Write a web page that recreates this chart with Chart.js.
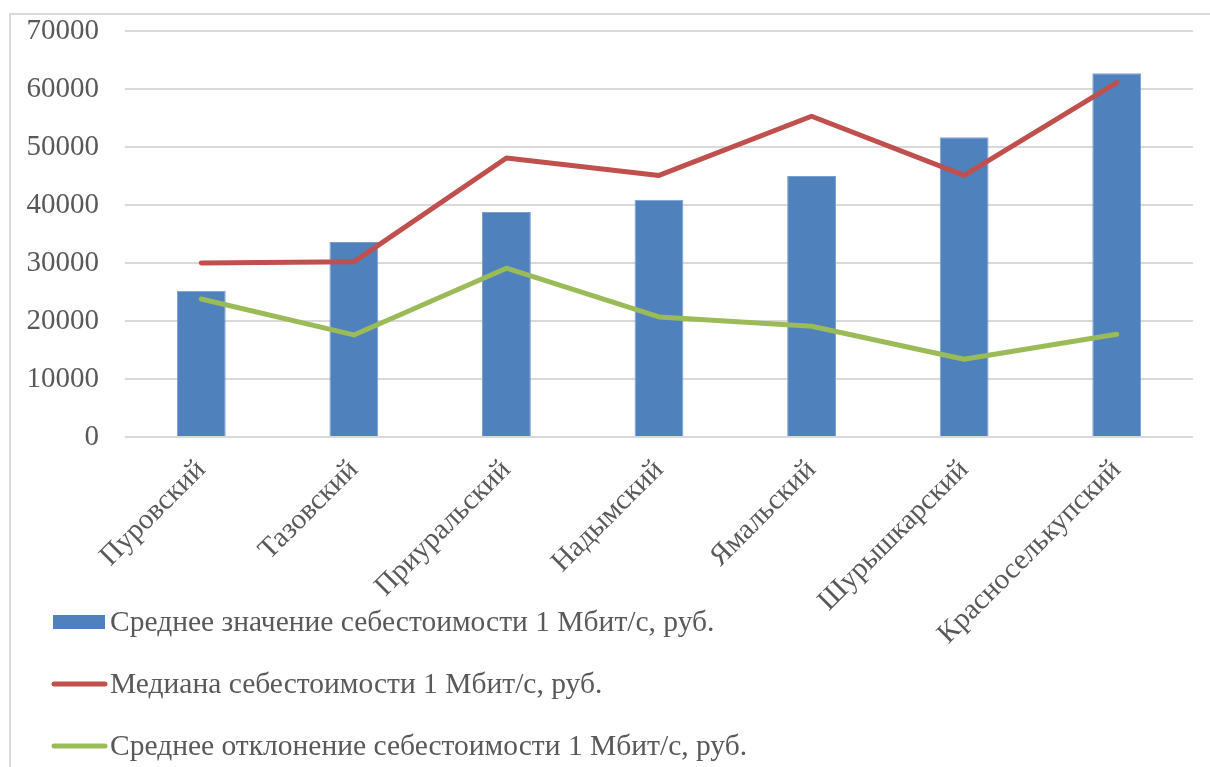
<!DOCTYPE html>
<html>
<head>
<meta charset="utf-8">
<script src="https://cdn.jsdelivr.net/npm/chart.js@4.4.1/dist/chart.umd.min.js"></script>
<style>
  html, body { margin: 0; padding: 0; background: #ffffff; overflow: hidden; }
  #frame {
    position: absolute; left: 9px; top: 13px; width: 1240px; height: 800px;
    border: 2px solid #d9d9d9; box-sizing: border-box;
  }
  #chart { position: absolute; left: 0; top: 0; }
</style>
</head>
<body>
<div id="frame"></div>
<canvas id="chart" width="1210" height="767"></canvas>
<script>
// Districts of the region
const districts = ['Пуровский', 'Тазовский', 'Приуральский', 'Надымский', 'Ямальский', 'Шурышкарский', 'Красноселькупский'];

// Cost of 1 Mbit/s, rubles
const meanCost   = [25200, 33600, 38800, 40900, 45000, 51700, 62700];
const medianCost = [30000, 30200, 48100, 45100, 55300, 45100, 61100];
const deviation  = [23800, 17600, 29100, 20700, 19100, 13400, 17700];

const seriesNames = [
  'Среднее значение себестоимости 1 Мбит/с, руб.',
  'Медиана себестоимости 1 Мбит/с, руб.',
  'Среднее отклонение себестоимости 1 Мбит/с, руб.'
];

const yTicks = [0, 10000, 20000, 30000, 40000, 50000, 60000, 70000];

const FONT = "'Liberation Serif', 'Times New Roman', serif";
const TEXT = '#595959';
const GRID = '#d9d9d9';

// Vertical legend in the lower-left corner
const sideLegend = {
  id: 'sideLegend',
  afterDraw(chart) {
    const ctx = chart.ctx;
    const rows = [622, 684, 746];
    ctx.save();
    ctx.font = '29.5px ' + FONT;
    ctx.textBaseline = 'middle';
    chart.data.datasets.forEach((ds, i) => {
      const y = rows[i];
      if (ds.type === 'bar') {
        ctx.fillStyle = ds.backgroundColor;
        ctx.fillRect(53, y - 7, 52, 14);
      } else {
        ctx.strokeStyle = ds.borderColor;
        ctx.lineWidth = 5;
        ctx.lineCap = 'round';
        ctx.beginPath();
        ctx.moveTo(54, y);
        ctx.lineTo(105, y);
        ctx.stroke();
      }
      ctx.fillStyle = TEXT;
      ctx.fillText(ds.label, 110, y + 1);
    });
    ctx.restore();
  }
};

new Chart(document.getElementById('chart'), {
  data: {
    labels: districts,
    datasets: [
      {
        type: 'bar',
        label: seriesNames[0],
        data: meanCost,
        backgroundColor: '#4f81bd',
        borderColor: '#7a9fcf',
        borderWidth: 1,
        barPercentage: 0.64,
        categoryPercentage: 0.5,
        order: 3
      },
      {
        type: 'line',
        label: seriesNames[1],
        data: medianCost,
        borderColor: '#c0504d',
        borderWidth: 5,
        pointRadius: 0,
        borderCapStyle: 'round',
        borderJoinStyle: 'round',
        tension: 0,
        order: 1
      },
      {
        type: 'line',
        label: seriesNames[2],
        data: deviation,
        borderColor: '#9bbb59',
        borderWidth: 5,
        pointRadius: 0,
        borderCapStyle: 'round',
        borderJoinStyle: 'round',
        tension: 0,
        order: 2
      }
    ]
  },
  options: {
    responsive: false,
    animation: false,
    devicePixelRatio: 1,
    layout: { padding: { left: 26, top: 31, right: 17, bottom: 0 } },
    plugins: {
      legend: { display: false },
      tooltip: { enabled: false }
    },
    scales: {
      x: {
        grid: { display: false, drawTicks: false },
        border: { display: false },
        ticks: {
          color: TEXT,
          font: { family: FONT, size: 29 },
          minRotation: 45,
          maxRotation: 45,
          padding: 16,
          autoSkip: false
        },
        afterFit(scale) {
          scale.height = 330;
          scale.paddingLeft = 0;
          scale.paddingRight = 0;
        }
      },
      y: {
        min: 0,
        max: 70000,
        afterBuildTicks(scale) { scale.ticks = yTicks.map(v => ({ value: v })); },
        afterFit(scale) {
          scale.width = 99;
          scale.paddingTop = 0;
          scale.paddingBottom = 0;
        },
        grid: { color: GRID, lineWidth: 2, drawTicks: false },
        border: { display: false },
        ticks: {
          color: TEXT,
          font: { family: FONT, size: 29 },
          padding: 26,
          callback: v => String(v)
        }
      }
    }
  },
  plugins: [sideLegend]
});
</script>
</body>
</html>
